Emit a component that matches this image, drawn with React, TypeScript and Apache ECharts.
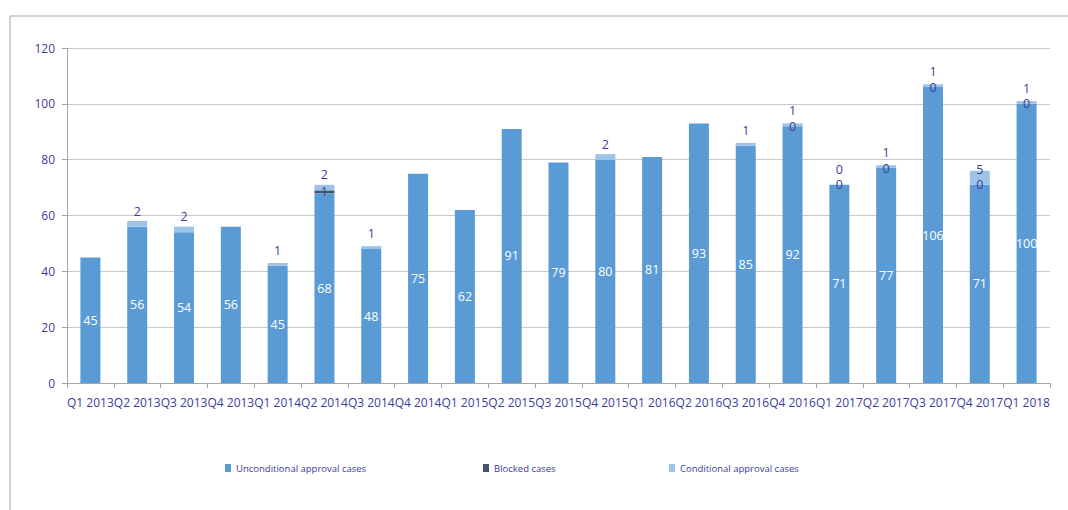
import React, { useEffect, useRef } from "react";
import * as echarts from "echarts";

const categories = [
  "Q1 2013", "Q2 2013", "Q3 2013", "Q4 2013",
  "Q1 2014", "Q2 2014", "Q3 2014", "Q4 2014",
  "Q1 2015", "Q2 2015", "Q3 2015", "Q4 2015",
  "Q1 2016", "Q2 2016", "Q3 2016", "Q4 2016",
  "Q1 2017", "Q2 2017", "Q3 2017", "Q4 2017",
  "Q1 2018",
];

// bar heights as drawn
const unconditional = [45, 56, 54, 56, 42, 68, 48, 75, 62, 91, 79, 80, 81, 93, 85, 92, 71, 77, 106, 71, 100];
// labels as printed on the bars
const unconditionalLabels = [45, 56, 54, 56, 45, 68, 48, 75, 62, 91, 79, 80, 81, 93, 85, 92, 71, 77, 106, 71, 100];
const blocked = [null, null, null, null, null, 1, null, null, null, null, null, null, null, null, null, 0, 0, 0, 0, 0, 0];
const conditional = [null, 2, 2, null, 1, 2, 1, null, null, null, null, 2, null, null, 1, 1, 0, 1, 1, 5, 1];

const yTicks = { min: 0, max: 120, interval: 20 };

const TEXT = "#3b3b9e";
const FONT = "'Open Sans', 'Liberation Sans', sans-serif";

export default function App() {
  const ref = useRef<HTMLDivElement>(null);
  useEffect(() => {
    if (!ref.current) return;
    const chart = echarts.init(ref.current, undefined, { renderer: "svg" });
    const legendBase = {
      top: 463,
      padding: 0,
      itemWidth: 6,
      itemHeight: 8,
      icon: "rect",
      textStyle: { color: TEXT, fontSize: 9.5, fontFamily: FONT },
      selectedMode: false,
    };
    chart.setOption({
      animation: false,
      textStyle: { fontFamily: FONT },
      graphic: [
        {
          type: "rect",
          shape: { x: 10, y: 16, width: 1200, height: 600 },
          style: { fill: "none", stroke: "#a6a6a6", lineWidth: 1 },
          silent: true,
        },
      ],
      legend: [
        { ...legendBase, left: 225, data: ["Unconditional approval cases"] },
        { ...legendBase, left: 483, data: ["Blocked cases"] },
        { ...legendBase, left: 669, data: ["Conditional approval cases"] },
      ],
      grid: { left: 67, right: 18, top: 48, bottom: 127 },
      xAxis: {
        type: "category",
        data: categories,
        axisLine: { lineStyle: { color: "#a6a6a6" } },
        axisTick: { show: true, length: 5, lineStyle: { color: "#a6a6a6" } },
        axisLabel: { color: TEXT, fontSize: 12, interval: 0, margin: 13, fontFamily: FONT },
      },
      yAxis: {
        type: "value",
        min: yTicks.min,
        max: yTicks.max,
        interval: yTicks.interval,
        axisLine: { show: true, lineStyle: { color: "#a6a6a6" } },
        axisTick: { show: true, length: 5, lineStyle: { color: "#a6a6a6" } },
        axisLabel: { color: TEXT, fontSize: 12, margin: 12, fontFamily: FONT },
        splitLine: { lineStyle: { color: "#c9c9c9" } },
      },
      series: [
        {
          name: "Unconditional approval cases",
          type: "bar",
          stack: "total",
          barWidth: 20,
          data: unconditional,
          itemStyle: { color: "#5b9bd5" },
          label: {
            show: true,
            position: "inside",
            color: "#ffffff",
            fontSize: 12.5,
            fontFamily: FONT,
            formatter: (p: any) => String(unconditionalLabels[p.dataIndex]),
          },
        },
        {
          name: "Blocked cases",
          type: "bar",
          stack: "total",
          data: blocked,
          itemStyle: { color: "#44546a" },
          label: {
            show: true,
            position: "inside",
            color: TEXT,
            fontSize: 12.5,
            fontFamily: FONT,
          },
        },
        {
          name: "Conditional approval cases",
          type: "bar",
          stack: "total",
          data: conditional,
          itemStyle: { color: "#9dc3e6" },
          label: {
            show: true,
            position: "insideBottom",
            distance: 9,
            color: TEXT,
            fontSize: 12.5,
            fontFamily: FONT,
          },
        },
      ],
    });
    return () => chart.dispose();
  }, []);
  return (
    <div
      ref={ref}
      style={{ position: "fixed", left: 0, top: 0, width: 1068, height: 510, background: "#ffffff" }}
    />
  );
}
